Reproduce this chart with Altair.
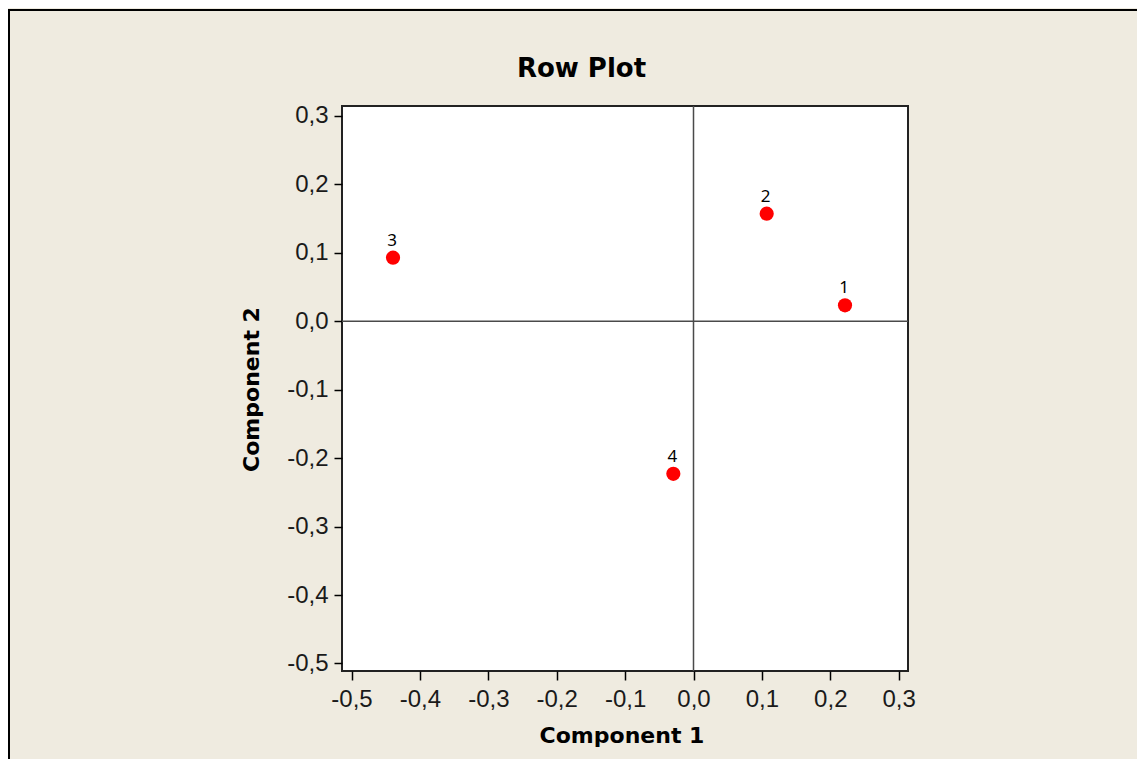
import altair as alt
import pandas as pd

# ---- data ----
ROW_LABELS = ["1", "2", "3", "4"]
COMP1 = [0.2215, 0.107, -0.4393, -0.0295]
COMP2 = [0.0231, 0.157, 0.0928, -0.223]
X_TICKS = [-0.5, -0.4, -0.3, -0.2, -0.1, 0.0, 0.1, 0.2, 0.3]
Y_TICKS = [-0.5, -0.4, -0.3, -0.2, -0.1, 0.0, 0.1, 0.2, 0.3]
X_DOMAIN = [-0.5139, 0.3136]
Y_DOMAIN = [-0.511, 0.3143]
TITLE = "Row Plot"
X_TITLE = "Component 1"
Y_TITLE = "Component 2"

W, H = 566, 565
PAD = {"left": 334, "top": 98, "right": 229, "bottom": 88}

df = pd.DataFrame({"label": ROW_LABELS, "c1": COMP1, "c2": COMP2})

label_expr = "(datum.value < -0.00001 ? '-' : '') + replace(format(abs(datum.value), '.1f'), '.', ',')"

xscale = alt.Scale(domain=X_DOMAIN, nice=False, zero=False)
yscale = alt.Scale(domain=Y_DOMAIN, nice=False, zero=False)

xaxis = alt.Axis(
    values=X_TICKS, labelExpr=label_expr, title=X_TITLE, grid=False, domain=False,
    tickSize=9, tickWidth=1.5, tickColor="#000", labelPadding=7,
    labelFont="Liberation Sans", labelFontSize=24, labelColor="#1a1a1a",
    labelOverlap=False, labelBound=False, labelFlush=False,
    titleFont="DejaVu Sans", titleFontSize=22, titleFontWeight="bold", titleColor="#000",
    titleX=279.5, titleY=71, titleBaseline="alphabetic", titleAlign="center",
)
yaxis = alt.Axis(
    values=Y_TICKS, labelExpr=label_expr, title=Y_TITLE, grid=False, domain=False,
    tickSize=8, tickWidth=1.5, tickColor="#000", labelPadding=6,
    labelFont="Liberation Sans", labelFontSize=24, labelColor="#1a1a1a",
    labelOverlap=False, labelBound=False, labelFlush=False,
    titleFont="DejaVu Sans", titleFontSize=22, titleFontWeight="bold", titleColor="#000",
    titleX=-84, titleY=283, titleAngle=270, titleBaseline="alphabetic", titleAlign="center",
)

base = alt.Chart(df)

points = base.mark_circle(size=201, color="#FF0000", opacity=1).encode(
    x=alt.X("c1:Q", scale=xscale, axis=xaxis),
    y=alt.Y("c2:Q", scale=yscale, axis=yaxis),
)

labels = base.mark_text(
    font="Noto Sans", fontSize=17, color="#000", align="center",
    baseline="alphabetic", dy=-12, dx=-1,
).encode(x="c1:Q", y="c2:Q", text="label:N")

zero_h = alt.Chart(pd.DataFrame({"v": [0.0]})).mark_rule(color="#4a4a4a", strokeWidth=1.5).encode(
    y=alt.Y("v:Q", scale=yscale)
)
zero_v = alt.Chart(pd.DataFrame({"v": [0.0]})).mark_rule(color="#4a4a4a", strokeWidth=1.5).encode(
    x=alt.X("v:Q", scale=xscale)
)

one = pd.DataFrame({"t": [TITLE]})
title = alt.Chart(one).mark_text(
    font="DejaVu Sans", fontSize=26, fontWeight="bold", color="#000",
    align="center", baseline="alphabetic",
).encode(x=alt.value(239.5), y=alt.value(-29), text="t:N")

border_top = alt.Chart(pd.DataFrame({"a": [0]})).mark_rule(color="#000", strokeWidth=2).encode(
    x=alt.value(-333), x2=alt.value(W + PAD["right"]), y=alt.value(-96)
)
border_left = alt.Chart(pd.DataFrame({"a": [0]})).mark_rule(color="#000", strokeWidth=2).encode(
    x=alt.value(-333), y=alt.value(-97), y2=alt.value(H + PAD["bottom"])
)

chart = alt.layer(zero_h, zero_v, points, labels, title, border_top, border_left).properties(
    width=W, height=H, padding=PAD,
    autosize=alt.AutoSizeParams(type="none"),
    background="#EFEBE0",
).configure_view(
    stroke="#222", strokeWidth=2, fill="#FFFFFF"
)

chart.save("out.html", embed_options={"renderer": "svg", "actions": False})
